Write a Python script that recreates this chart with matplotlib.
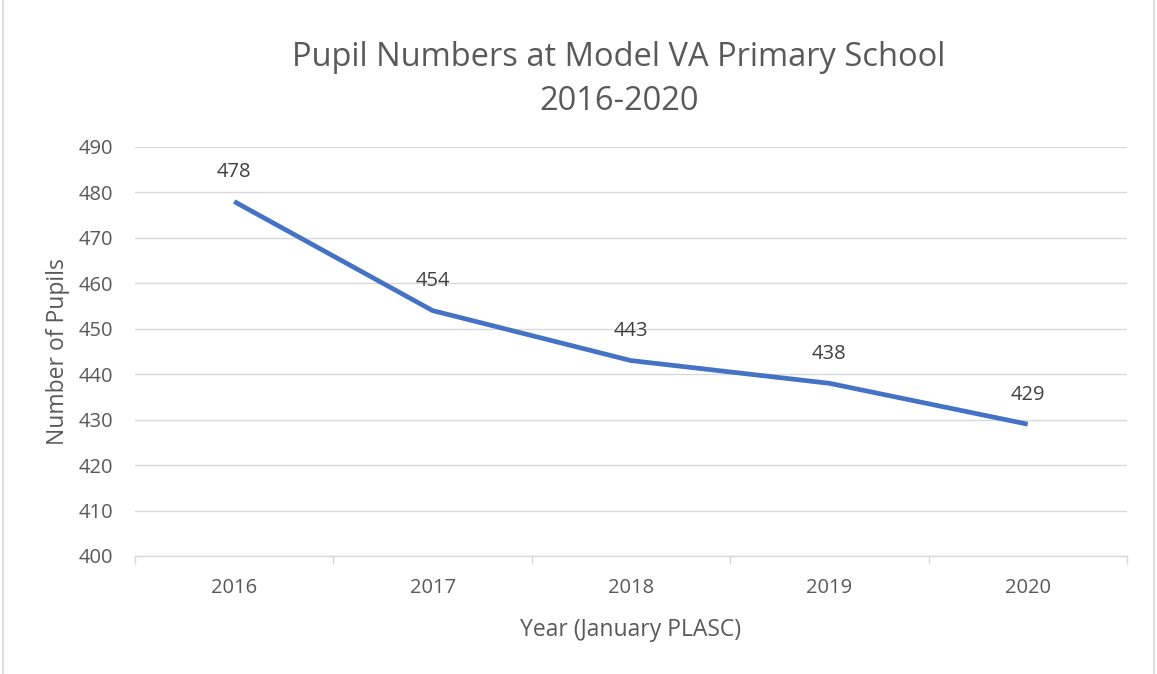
import numpy as np
import matplotlib.pyplot as plt
from matplotlib.lines import Line2D

years = ["2016", "2017", "2018", "2019", "2020"]
pupils = [478, 454, 443, 438, 429]

plt.rcParams['font.family'] = ['Open Sans', 'DejaVu Sans']

fig = plt.figure(figsize=(11.57, 6.74), dpi=100)
ax = fig.add_axes([0.1167, 0.1751, 0.8573, 0.6068])

x = np.arange(len(years))
ax.plot(x, pupils, color='#4472C4', linewidth=3.4, solid_capstyle='butt')
for xi, v in zip(x, pupils):
    ax.annotate(str(v), (xi, v), xytext=(0, 21), textcoords='offset points',
                ha='center', va='center', fontsize=14.5, color='#404040')

ax.set_xlim(-0.5, len(years) - 0.5)
ax.set_ylim(400, 490)
ax.set_yticks(np.arange(400, 491, 10))
ax.set_xticks(x)
ax.set_xticklabels(years)
ax.set_xticks(np.arange(-0.5, len(years), 1), minor=True)
ax.grid(axis='y', color='#D9D9D9', linewidth=1)
ax.set_axisbelow(True)

for s in ['top', 'right', 'left']:
    ax.spines[s].set_visible(False)
ax.spines['bottom'].set_color('#D9D9D9')
ax.spines['bottom'].set_linewidth(1)
ax.tick_params(axis='x', which='major', length=0, pad=16, labelsize=14.5, labelcolor='#595959')
ax.tick_params(axis='x', which='minor', length=6, color='#D9D9D9', width=1)
ax.tick_params(axis='y', length=0, pad=16, labelsize=14.5, labelcolor='#595959')

ax.set_xlabel("Year (January PLASC)", fontsize=16.5, color='#595959', labelpad=14)
ax.set_ylabel("Number of Pupils", fontsize=16.5, color='#595959', labelpad=6)

fig.text(0.535, 0.882, "Pupil Numbers at Model VA Primary School\n2016-2020",
         ha='center', va='center', fontsize=23.5, color='#595959', linespacing=1.45)

# outer chart border
fig.add_artist(Line2D([0.003, 0.003], [0, 1], color='#D9D9D9', linewidth=1.2, transform=fig.transFigure))
fig.add_artist(Line2D([0.9975, 0.9975], [0, 1], color='#D9D9D9', linewidth=1.2, transform=fig.transFigure))

fig.savefig("out.png", dpi=100)
